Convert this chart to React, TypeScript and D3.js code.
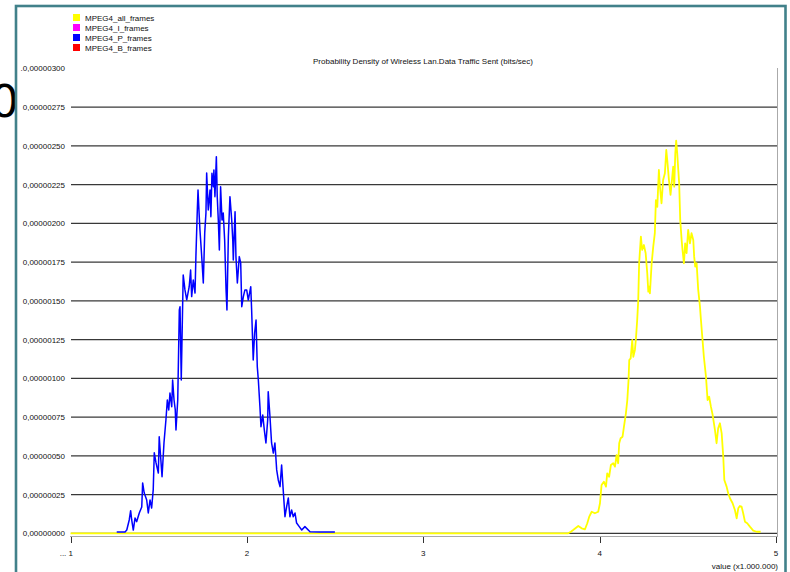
import React, { useEffect, useRef } from 'react';
import * as d3 from 'd3';

// legend entries (only all/P frames have visible curves)
const seriesNames = ['MPEG4_all_frames', 'MPEG4_I_frames', 'MPEG4_P_frames', 'MPEG4_B_frames'];
const seriesColors = ['#ffff00', '#ff00ff', '#0000ff', '#ff0000'];

// [value (x1.000.000 bits/sec), density (x 1e-8)]
const allFrames: [number, number][] = [
  [1.0, 0], [3.822, 0], [3.837, 1.0], [3.85, 2.1], [3.879, 4.7], [3.898, 3.2], [3.917, 2.6],
  [3.93, 6.5], [3.941, 10.7], [3.955, 13.9], [3.973, 12.9], [3.992, 13.9], [4.002, 19.4],
  [4.011, 31.2], [4.024, 33.3], [4.036, 30.1], [4.043, 38.7], [4.054, 36.5], [4.064, 44.1],
  [4.077, 45.2], [4.087, 43.0], [4.096, 50.5], [4.105, 45.2], [4.111, 58.1], [4.119, 61.3],
  [4.13, 62.3], [4.138, 68.8], [4.149, 77.4], [4.157, 86.0], [4.164, 98.9], [4.168, 111.8],
  [4.176, 112.9], [4.185, 124.7], [4.191, 113.9], [4.2, 118.3], [4.206, 125.8], [4.213, 137.6],
  [4.219, 150.5], [4.224, 174.2], [4.234, 191.4], [4.241, 182.8], [4.251, 186.0], [4.261, 180.7],
  [4.27, 167.8], [4.276, 155.9], [4.281, 159.1], [4.285, 154.8], [4.295, 174.2], [4.304, 184.9],
  [4.313, 193.6], [4.319, 215.0], [4.327, 210.6], [4.336, 234.4], [4.342, 223.6], [4.351, 212.9],
  [4.36, 227.9], [4.37, 232.3], [4.378, 247.3], [4.385, 238.7], [4.393, 227.9], [4.402, 218.3],
  [4.41, 227.9], [4.417, 236.5], [4.423, 223.6], [4.429, 245.2], [4.434, 253.3], [4.44, 245.2],
  [4.446, 234.4], [4.451, 225.8], [4.457, 202.1], [4.465, 189.2], [4.47, 182.8], [4.478, 174.2],
  [4.485, 187.1], [4.493, 180.7], [4.502, 195.7], [4.512, 187.1], [4.521, 193.6], [4.531, 189.2],
  [4.536, 178.5], [4.542, 172.0], [4.55, 174.2], [4.559, 157.0], [4.569, 146.2], [4.573, 139.8],
  [4.582, 126.8], [4.591, 113.9], [4.603, 101.0], [4.612, 86.0], [4.621, 88.1], [4.631, 81.7],
  [4.641, 76.3], [4.654, 66.6], [4.663, 58.1], [4.672, 67.7], [4.682, 71.0], [4.692, 64.5],
  [4.701, 49.4], [4.707, 34.4], [4.72, 30.1], [4.729, 25.8], [4.739, 22.6], [4.754, 19.4],
  [4.767, 15.0], [4.777, 9.7], [4.786, 16.1], [4.795, 17.6], [4.805, 17.2], [4.814, 12.9],
  [4.824, 7.5], [4.837, 6.5], [4.852, 4.3], [4.871, 1.7], [4.89, 1.0], [4.913, 1.0],
];

const pFrames: [number, number][] = [
  [1.262, 0.8], [1.309, 0.8], [1.319, 2.1], [1.333, 8.6], [1.341, 14.6], [1.347, 8.6], [1.356, 2.1],
  [1.366, 9.9], [1.375, 7.5], [1.39, 13.1], [1.404, 17.0], [1.409, 32.5], [1.418, 26.0],
  [1.432, 21.5], [1.441, 13.1], [1.451, 21.5], [1.46, 16.3], [1.469, 28.0], [1.475, 51.9],
  [1.485, 45.4], [1.498, 38.9], [1.503, 62.3], [1.511, 49.4], [1.519, 36.5], [1.53, 58.3],
  [1.541, 73.1], [1.549, 86.0], [1.557, 79.6], [1.564, 90.5], [1.574, 81.7], [1.579, 98.9],
  [1.587, 86.0], [1.594, 79.6], [1.598, 66.6], [1.608, 86.0], [1.613, 118.3], [1.617, 144.1],
  [1.621, 146.2], [1.628, 98.9], [1.639, 166.7], [1.649, 157.0], [1.659, 150.6], [1.673, 159.1],
  [1.681, 169.9], [1.687, 152.7], [1.696, 163.4], [1.706, 155.0], [1.711, 178.5], [1.719, 208.6],
  [1.723, 221.5], [1.73, 204.3], [1.734, 195.7], [1.744, 178.5], [1.753, 161.5], [1.761, 193.8],
  [1.768, 206.7], [1.772, 232.5], [1.781, 208.6], [1.791, 221.5], [1.796, 204.3], [1.802, 232.3],
  [1.81, 223.6], [1.813, 234.4], [1.819, 217.2], [1.827, 243.0], [1.832, 217.2], [1.838, 202.1],
  [1.844, 182.8], [1.851, 223.6], [1.859, 202.1], [1.866, 206.7], [1.874, 189.2], [1.882, 157.0],
  [1.887, 144.1], [1.895, 191.4], [1.904, 217.2], [1.914, 202.1], [1.92, 189.2], [1.923, 176.3],
  [1.933, 207.5], [1.938, 178.5], [1.946, 161.5], [1.957, 178.5], [1.965, 174.4], [1.971, 146.2],
  [1.98, 152.7], [1.989, 157.0], [1.999, 157.0], [2.008, 150.5], [2.022, 159.1], [2.027, 144.1],
  [2.036, 111.8], [2.044, 129.2], [2.052, 137.6], [2.059, 107.5], [2.065, 98.9], [2.074, 81.7],
  [2.08, 68.8], [2.09, 76.3], [2.099, 66.6], [2.108, 58.3], [2.118, 73.1], [2.121, 91.4],
  [2.131, 75.2], [2.14, 58.3], [2.15, 51.8], [2.159, 58.3], [2.169, 40.9], [2.178, 34.4],
  [2.188, 30.1], [2.197, 44.1], [2.206, 28.0], [2.216, 10.7], [2.226, 17.6], [2.235, 22.8],
  [2.244, 10.7], [2.254, 15.0], [2.263, 10.7], [2.273, 13.1], [2.282, 6.6], [2.297, 4.3],
  [2.311, 2.1], [2.329, 4.3], [2.358, 1.0], [2.414, 0.8], [2.499, 0.8],
];

const xTicks = [1, 2, 3, 4, 5];
const yTicks = [0, 25, 50, 75, 100, 125, 150, 175, 200, 225, 250, 275, 300];

const font = "'Liberation Sans', Arial, sans-serif";

const App = () => {
  const svgRef = useRef<SVGSVGElement>(null);

  useEffect(() => {
    const svg = d3.select(svgRef.current);
    svg.selectAll('*').remove();

    const x = d3.scaleLinear().domain([1, 5]).range([70.5, 776]);
    const y = d3.scaleLinear().domain([0, 300]).range([533.3, 68.3]);

    // clipped big glyph at the far left
    svg
      .append('text')
      .attr('x', 19)
      .attr('y', 117)
      .attr('text-anchor', 'end')
      .style('font-family', "'DejaVu Sans', sans-serif")
      .style('font-size', '45px')
      .text('0');

    // outer frame
    svg
      .append('rect')
      .attr('x', 16)
      .attr('y', 6)
      .attr('width', 769.5)
      .attr('height', 600)
      .attr('fill', 'none')
      .attr('stroke', '#41818a')
      .attr('stroke-width', 2.6);

    // legend
    const legend = svg
      .selectAll('.legend')
      .data(seriesNames)
      .enter()
      .append('g')
      .attr('transform', (_, i) => `translate(73, ${14 + i * 10})`);

    legend
      .append('rect')
      .attr('width', 7)
      .attr('height', 7)
      .attr('fill', (_, i) => seriesColors[i]);

    legend
      .append('text')
      .attr('x', 12)
      .attr('y', 6.5)
      .style('font-family', font)
      .style('font-size', '8px')
      .attr('fill', '#111')
      .text(d => d);

    // title
    svg
      .append('text')
      .attr('x', 423)
      .attr('y', 63.5)
      .attr('text-anchor', 'middle')
      .style('font-family', font)
      .style('font-size', '8px')
      .attr('fill', '#111')
      .text('Probability Density of Wireless Lan.Data Traffic Sent (bits/sec)');

    // grid lines
    svg
      .append('g')
      .selectAll('line')
      .data(yTicks.filter(t => t < 300))
      .enter()
      .append('line')
      .attr('x1', 71)
      .attr('x2', 777)
      .attr('y1', d => y(d))
      .attr('y2', d => y(d))
      .attr('stroke', '#383838')
      .attr('stroke-width', 1.2);

    // y labels
    svg
      .append('g')
      .selectAll('text')
      .data(yTicks)
      .enter()
      .append('text')
      .attr('x', 65)
      .attr('y', d => y(d) + 3)
      .attr('text-anchor', 'end')
      .style('font-family', font)
      .style('font-size', '8px')
      .attr('fill', '#111')
      .text(d => (d === 300 ? '.' : '') + (d * 1e-8).toFixed(8).replace('.', ','));

    // right border of plot
    svg
      .append('line')
      .attr('x1', 777.5)
      .attr('x2', 777.5)
      .attr('y1', 68)
      .attr('y2', 537)
      .attr('stroke', '#aaa')
      .attr('stroke-width', 1);

    // x axis
    svg
      .append('line')
      .attr('x1', 70)
      .attr('x2', 777)
      .attr('y1', 536.5)
      .attr('y2', 536.5)
      .attr('stroke', '#aaa')
      .attr('stroke-width', 1.2);

    const xAxis = svg.append('g');
    xAxis
      .selectAll('line')
      .data(xTicks)
      .enter()
      .append('line')
      .attr('x1', d => Math.round(x(d)) + 0.5)
      .attr('x2', d => Math.round(x(d)) + 0.5)
      .attr('y1', 537)
      .attr('y2', 543)
      .attr('stroke', '#333');

    xAxis
      .selectAll('text')
      .data(xTicks)
      .enter()
      .append('text')
      .attr('x', d => (d === 1 ? x(d) + 2.5 : x(d)))
      .attr('y', 556)
      .attr('text-anchor', d => (d === 1 ? 'end' : 'middle'))
      .style('font-family', font)
      .style('font-size', '8px')
      .attr('fill', '#111')
      .text(d => (d === 1 ? '... 1' : String(d)));

    svg
      .append('text')
      .attr('x', 778)
      .attr('y', 568.5)
      .attr('text-anchor', 'end')
      .style('font-family', font)
      .style('font-size', '8px')
      .attr('fill', '#111')
      .text('value (x1.000.000)');

    // curves
    const line = d3
      .line<[number, number]>()
      .x(d => x(d[0]))
      .y(d => y(d[1]));

    svg
      .append('path')
      .datum(allFrames)
      .attr('d', line)
      .attr('fill', 'none')
      .attr('stroke', seriesColors[0])
      .attr('stroke-width', 1.8)
      .attr('stroke-linejoin', 'round');

    svg
      .append('path')
      .datum(pFrames)
      .attr('d', line)
      .attr('fill', 'none')
      .attr('stroke', seriesColors[2])
      .attr('stroke-width', 1.5)
      .attr('stroke-linejoin', 'round');
  }, []);

  return (
    <svg
      ref={svgRef}
      width={790}
      height={572}
      style={{ position: 'absolute', left: 0, top: 0, background: '#fff' }}
    />
  );
};

export default App;
